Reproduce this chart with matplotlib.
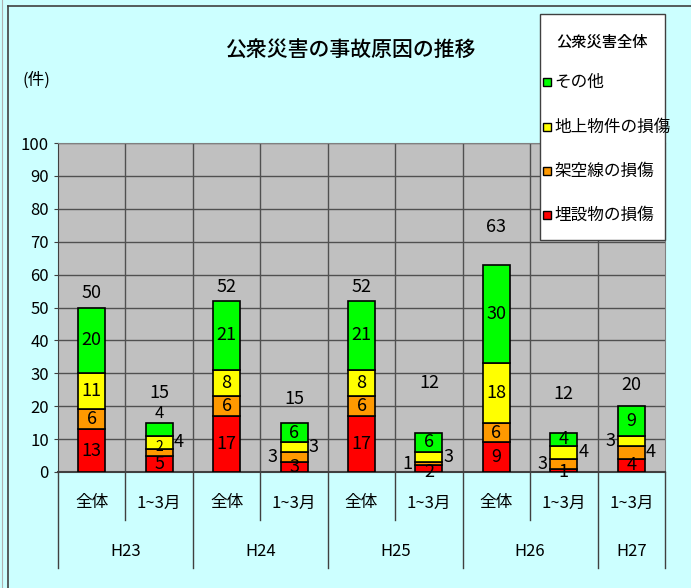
import matplotlib.pyplot as plt
from matplotlib.patches import Rectangle
from matplotlib.lines import Line2D
import matplotlib.transforms as mtransforms

plt.rcParams['font.family'] = ['Noto Sans CJK JP', 'DejaVu Sans']

# data
sub_labels = ["全体", "1~3月", "全体", "1~3月", "全体", "1~3月", "全体", "1~3月", "1~3月"]
group_labels = ["H23", "H24", "H25", "H26", "H27"]
group_sizes = [2, 2, 2, 2, 1]
series_names = ["埋設物の損傷", "架空線の損傷", "地上物件の損傷", "その他"]
buried = [13, 5, 17, 3, 17, 2, 9, 1, 4]
overhead = [6, 2, 6, 3, 6, 1, 6, 3, 4]
ground = [11, 4, 8, 3, 8, 3, 18, 4, 3]
other = [20, 4, 21, 6, 21, 6, 30, 4, 9]

colors = ["#FF0000", "#FF9900", "#FFFF00", "#00FF00"]

# where each small label sits: c = centre, l = left, r = right, a = above,
# b = at segment bottom, u = at segment top
label_pos = [
    ["c", "c", "c", "c"],
    ["c", "u", "r", "a"],
    ["c", "c", "c", "c"],
    ["c", "l", "r", "c"],
    ["c", "c", "c", "c"],
    ["b", "l", "r", "c"],
    ["c", "c", "c", "c"],
    ["b", "l", "r", "c"],
    ["c", "r", "l", "c"],
]
total_offset = [14, 30, 14, 24, 14, 50, 38, 39, 21]  # px above bar top

W, H = 691, 588
fig = plt.figure(figsize=(W / 100, H / 100), dpi=100)
fig.patch.set_facecolor("#CCFFFF")


def fx(x):
    return x / W


def fy(y):
    return 1 - y / H


# outer frame lines
fig.add_artist(Line2D([fx(8), fx(8)], [0, fy(6)], color="#404040", lw=1.2))
fig.add_artist(Line2D([fx(8), 1], [fy(6), fy(6)], color="#404040", lw=1.2))
fig.add_artist(Line2D([fx(2), fx(2)], [0, 1], color="#B0B0B0", lw=0.8))

left, right, top, bottom = 58, 665, 143, 472
ax = fig.add_axes([fx(left), fy(bottom), fx(right - left), (bottom - top) / H])
ax.set_facecolor("#C0C0C0")

n = len(sub_labels)
xs = list(range(n))
series = [buried, overhead, ground, other]
bw = 0.4

ax.set_xlim(-0.5, n - 0.5)
ax.set_ylim(0, 100)
ax.set_yticks(range(0, 101, 10))
ax.tick_params(axis="y", labelsize=12, length=3, color="#404040")
ax.set_xticks([])
ax.yaxis.grid(True, color="#505050", lw=1)
for b in range(1, n):
    ax.axvline(b - 0.5, color="#505050", lw=1, zorder=0.5)
ax.set_axisbelow(True)
for s in ["top", "right"]:
    ax.spines[s].set_color("#808080")
ax.spines["left"].set_color("#404040")
ax.spines["bottom"].set_color("#404040")
ax.spines["bottom"].set_linewidth(1.5)

bottoms = [0] * n
for si, vals in enumerate(series):
    ax.bar(xs, vals, bw, bottom=bottoms, color=colors[si], edgecolor="black",
           lw=1.2, zorder=3, label=series_names[si])
    for i in range(n):
        v = vals[i]
        pos = label_pos[i][si]
        yc = bottoms[i] + v / 2
        fs = 13 if v >= 3 else 11
        if pos == "c":
            ax.text(xs[i], yc, str(v), ha="center", va="center", fontsize=fs, zorder=4)
        elif pos == "l":
            ax.text(xs[i] - bw / 2 - 0.04, yc, str(v), ha="right", va="center", fontsize=13, zorder=4)
        elif pos == "r":
            ax.text(xs[i] + bw / 2 + 0.02, yc, str(v), ha="left", va="center", fontsize=13, zorder=4)
        elif pos == "b":
            ax.text(xs[i], bottoms[i], str(v), ha="center", va="center", fontsize=13, zorder=4)
        elif pos == "u":
            ax.text(xs[i], bottoms[i] + v + 0.5, str(v), ha="center", va="center", fontsize=10, zorder=4)
        elif pos == "a":
            ax.annotate(str(v), (xs[i], bottoms[i] + v), xytext=(0, 9), textcoords="offset pixels",
                        ha="center", va="center", fontsize=12, zorder=4)
    bottoms = [bottoms[i] + vals[i] for i in range(n)]

for i in range(n):
    ax.annotate(str(bottoms[i]), (xs[i], bottoms[i]), xytext=(0, total_offset[i]),
                textcoords="offset pixels", ha="center", va="center", fontsize=13)

# two level category axis
trans = mtransforms.blended_transform_factory(ax.transData, ax.transAxes)
ph = bottom - top
short_y = -(520 - bottom) / ph
long_y = -(568 - bottom) / ph
for i, lab in enumerate(sub_labels):
    ax.text(xs[i], -(503 - bottom) / ph, lab, transform=trans, ha="center", va="center", fontsize=12)
edges = [-0.5]
for g in group_sizes:
    edges.append(edges[-1] + g)
for b in range(n + 1):
    xb = b - 0.5
    y_end = long_y if xb in edges else short_y
    ax.add_line(Line2D([xb, xb], [0, y_end], transform=trans, color="#404040", lw=1, clip_on=False))
for g, lab in enumerate(group_labels):
    xc = (edges[g] + edges[g + 1]) / 2
    ax.text(xc, -(551 - bottom) / ph, lab, transform=trans, ha="center", va="center", fontsize=12)

# title and unit
fig.text(fx(350), fy(50), "公衆災害の事故原因の推移", ha="center", va="center", fontsize=15, fontweight="medium")
fig.text(fx(36), fy(80), "(件)", ha="center", va="center", fontsize=12)

# legend drawn by hand
fig.add_artist(Rectangle((fx(540), fy(240)), fx(125), (240 - 14) / H, facecolor="white",
                         edgecolor="#404040", lw=1, zorder=5))
fig.text(fx(602), fy(42), "公衆災害全体", ha="center", va="center", fontsize=11, fontweight="medium", zorder=6)
for k, (name, col) in enumerate(zip(series_names[::-1], colors[::-1])):
    yy = [82, 127, 171, 215][k]
    fig.add_artist(Rectangle((fx(543), fy(yy + 4)), fx(8), 8 / H, facecolor=col,
                             edgecolor="black", lw=1, zorder=6))
    fig.text(fx(554), fy(yy), name, ha="left", va="center", fontsize=12, zorder=6)

fig.savefig("out.png", dpi=100, facecolor=fig.get_facecolor())
